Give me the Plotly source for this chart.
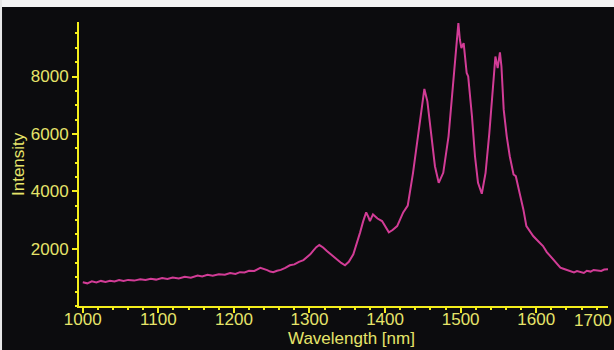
import plotly.graph_objects as go

# Wavelength (nm) and intensity values
wavelength = [1000, 1006, 1012, 1018, 1024, 1030, 1036, 1042, 1048, 1054, 1060, 1068, 1076,
              1083, 1090, 1097, 1105, 1112, 1119, 1127, 1135, 1143, 1152, 1158, 1165, 1172,
              1180, 1188, 1195, 1202, 1208, 1214, 1220, 1227, 1235, 1240, 1244, 1248, 1252,
              1257, 1262, 1268, 1274, 1280, 1286, 1292, 1297, 1301, 1305, 1309, 1313, 1318,
              1323, 1330, 1336, 1342, 1347, 1352, 1358, 1363, 1367, 1371, 1375, 1378, 1380,
              1384, 1390, 1396, 1400, 1405, 1410, 1416, 1424, 1430, 1437, 1444, 1449, 1452,
              1456, 1462, 1466, 1471, 1477, 1484, 1490, 1494, 1497, 1499, 1501, 1504, 1508,
              1510, 1515, 1519, 1523, 1528, 1533, 1538, 1543, 1546, 1549, 1552, 1554, 1557,
              1561, 1565, 1570, 1573, 1579, 1583, 1587, 1592, 1596, 1603, 1609, 1614, 1620,
              1626, 1632, 1636, 1640, 1645, 1650, 1654, 1658, 1663, 1667, 1672, 1676, 1681,
              1686, 1690, 1695]
intensity = [828, 790, 860, 820, 875, 840, 880, 855, 905, 870, 910, 885, 932,
             905, 950, 920, 975, 945, 991, 960, 1015, 985, 1060, 1030, 1085, 1055,
             1110, 1090, 1150, 1120, 1180, 1170, 1230, 1220, 1330, 1300, 1250, 1200, 1175,
             1230, 1260, 1330, 1419, 1450, 1540, 1600, 1697, 1800, 1930, 2050, 2125, 2040,
             1917, 1760, 1628, 1500, 1419, 1540, 1801, 2200, 2567, 2950, 3262, 3100, 2960,
             3193, 3050, 2960, 2780, 2567, 2650, 2786, 3262, 3500, 4643, 6045, 7150, 7565,
             7134, 5686, 4873, 4295, 4643, 5916, 7655, 9046, 9860, 9280, 8990, 9164, 8121,
             8003, 6612, 5220, 4295, 3913, 4643, 6034, 7773, 8698, 8295, 8838, 8351, 6845,
             5916, 5220, 4584, 4525, 3829, 3367, 2786, 2600, 2438, 2250, 2090, 1880, 1687,
             1500, 1339, 1300, 1256, 1220, 1170, 1215, 1186, 1150, 1230, 1200, 1256, 1230,
             1220, 1270, 1280]

x_tick_vals = [1000, 1100, 1200, 1300, 1400, 1500, 1600]
x_tick_text = ["1000", "1100", "1200", "1300", "1400", "1500", "1600"]
y_tick_vals = [2000, 4000, 6000, 8000]
y_tick_text = ["2000", "4000", "6000", "8000"]
last_x_label = "1700"

AXIS = "#f4ee1c"
TEXT = "#e6e46a"
LINE = "#d23c96"
BG = "#0c0c0e"
FONT = "Liberation Sans, Arial, Helvetica, sans-serif"

fig = go.Figure()
fig.add_trace(go.Scatter(x=wavelength, y=intensity, mode="lines",
                         line=dict(color=LINE, width=2), hoverinfo="skip",
                         showlegend=False))

fig.update_layout(
    width=614, height=350,
    margin=dict(l=79, r=6, t=22, b=44),
    paper_bgcolor=BG, plot_bgcolor=BG,
    font=dict(family=FONT, size=17, color=TEXT),
    xaxis=dict(range=[995, 1695], showgrid=False, zeroline=False,
               showline=True, linecolor=AXIS, linewidth=2,
               tickmode="array", tickvals=x_tick_vals, ticktext=x_tick_text,
               ticks="outside", ticklen=5, tickwidth=2, tickcolor=AXIS,
               ticklabelstandoff=-8,
               tickfont=dict(size=17, color=TEXT, family=FONT),
               minor=dict(dtick=20, ticks="outside", ticklen=2, tickwidth=2, tickcolor=AXIS)),
    yaxis=dict(range=[0, 9900], showgrid=False, zeroline=False,
               showline=True, linecolor=AXIS, linewidth=2,
               tickmode="array", tickvals=y_tick_vals, ticktext=y_tick_text,
               ticks="outside", ticklen=5, tickwidth=2, tickcolor=AXIS,
               tickfont=dict(size=17, color=TEXT, family=FONT),
               minor=dict(dtick=500, ticks="outside", ticklen=2, tickwidth=2, tickcolor=AXIS)),
    shapes=[
        dict(type="rect", xref="paper", yref="paper", x0=-0.16, x1=1.02, y0=1.0528, y1=1.09,
             fillcolor="#f4f4f4", line=dict(width=0), layer="above"),
        dict(type="rect", xref="paper", yref="paper", x0=-0.16, x1=-0.1455, y0=-0.17, y1=1.09,
             fillcolor="#e8e8e8", line=dict(width=0), layer="above"),
    ],
    annotations=[
        dict(text=last_x_label, xref="paper", yref="paper", x=1, y=0, xanchor="right",
             yanchor="top", xshift=6, yshift=-3, showarrow=False,
             font=dict(size=17, color=TEXT, family=FONT)),
        dict(text="Wavelength [nm]", xref="paper", yref="paper", x=0.516, y=-0.109,
             xanchor="center", yanchor="middle", yshift=-2, showarrow=False,
             font=dict(size=17, color=TEXT, family=FONT)),
        dict(text="Intensity", xref="paper", yref="paper", x=-0.1153, y=0.5,
             xanchor="center", yanchor="middle", textangle=-90, showarrow=False,
             font=dict(size=17, color=TEXT, family=FONT)),
    ],
)

fig.write_html("out.html")
